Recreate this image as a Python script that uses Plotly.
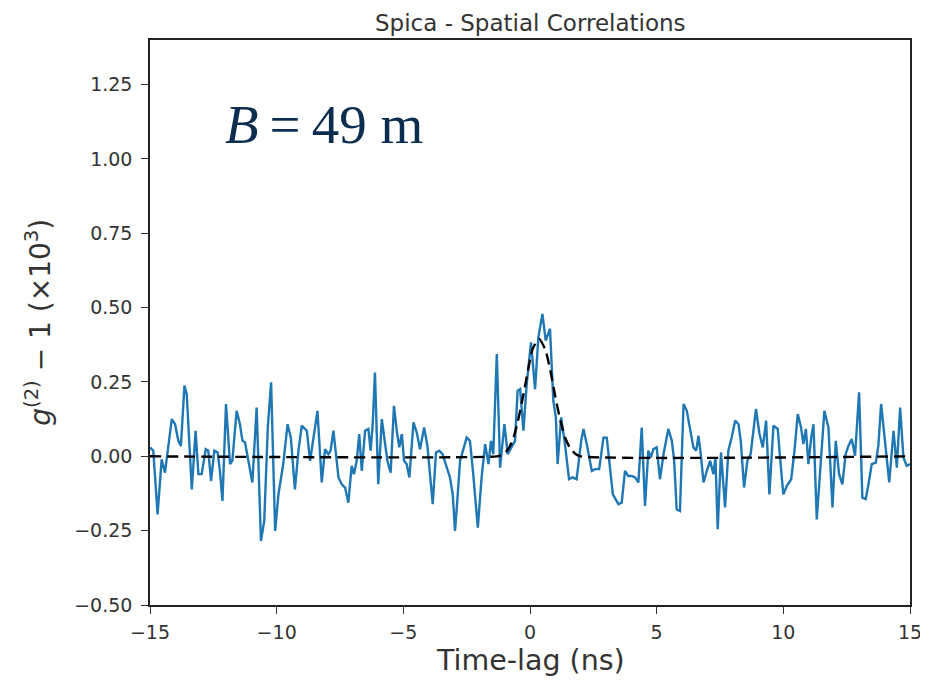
import plotly.graph_objects as go

lag_ns = [
    -15.0, -14.87, -14.70, -14.54, -14.41, -14.28, -14.14, -14.01, -13.88, -13.78, -13.64, -13.55, -13.46, -13.35,
    -13.20, -13.09, -12.96, -12.80, -12.70, -12.59, -12.46, -12.33, -12.24, -12.14, -12.00, -11.84, -11.75, -11.58,
    -11.45, -11.35, -11.25, -11.12, -10.96, -10.79, -10.62, -10.49, -10.35, -10.22, -10.06, -9.93, -9.74, -9.57,
    -9.44, -9.28, -9.14, -9.01, -8.88,
    -8.81, -8.68, -8.55, -8.39, -8.22, -8.09, -7.96, -7.87, -7.76, -7.66, -7.56, -7.43, -7.30, -7.17, -7.04, -6.95,
    -6.84, -6.74, -6.64, -6.51, -6.38, -6.29, -6.21, -6.12, -5.99, -5.85, -5.72, -5.63, -5.50, -5.37, -5.26, -5.16,
    -5.06, -4.97, -4.87, -4.76, -4.60, -4.47, -4.34, -4.18, -4.05, -3.95, -3.84, -3.71, -3.58, -3.45, -3.31, -3.16,
    -3.05, -2.96, -2.87, -2.76,
    -2.50, -2.37, -2.24, -2.06, -1.91, -1.77, -1.64, -1.54, -1.45, -1.31, -1.18, -1.01, -0.88, -0.72, -0.59, -0.49,
    -0.39, -0.26, -0.13, 0.04, 0.20, 0.33, 0.49, 0.62, 0.79, 0.92, 1.02, 1.09, 1.23, 1.38, 1.54, 1.67, 1.84, 2.02,
    2.11, 2.24, 2.44, 2.57, 2.73, 2.90, 3.03,
    3.27, 3.49, 3.62, 3.75, 3.88, 4.02, 4.15, 4.28, 4.41, 4.54, 4.67, 4.77, 4.87, 5.00, 5.13, 5.27, 5.46, 5.60, 5.69,
    5.79, 5.92, 6.06, 6.19, 6.32, 6.45, 6.56, 6.65, 6.74, 6.85, 6.98, 7.11, 7.24, 7.32, 7.41, 7.54, 7.70, 7.83, 7.96,
    8.10, 8.23, 8.32, 8.45, 8.58, 8.71, 8.82, 8.92, 9.06, 9.19, 9.32, 9.45,
    9.61, 9.78, 9.87, 10.00, 10.14, 10.31, 10.44, 10.57, 10.70, 10.79, 10.89, 10.99, 11.10, 11.19, 11.32, 11.45,
    11.62, 11.78, 11.94, 12.07, 12.20, 12.33, 12.46, 12.57, 12.70, 12.83, 12.99, 13.12, 13.25, 13.36, 13.49, 13.65,
    13.75, 13.86, 13.99, 14.18, 14.35, 14.48, 14.61, 14.74, 14.87, 15.0,
]
g2_minus_1 = [
    0.030, 0.019, -0.195, -0.010, -0.055, 0.041, 0.125, 0.108, 0.052, 0.035, 0.238, 0.209, 0.063, -0.111,
    0.086, -0.060, -0.060, 0.024, 0.019, -0.083, 0.019, 0.013, -0.049, -0.150, 0.176, -0.026, -0.015, 0.153,
    0.108, 0.052, 0.047, -0.015, -0.088, 0.164, -0.285, -0.217, 0.097, 0.249, -0.251, -0.128, -0.026, 0.108,
    0.063, -0.111, 0.019, 0.103, 0.092,
    0.086, -0.015, 0.063, 0.153, -0.088, 0.024, 0.007, 0.019, 0.086, -0.004, -0.071, -0.094, -0.105, -0.156, -0.032, -0.060,
    -0.015, 0.075, -0.049, 0.086, 0.092, 0.019, 0.108, 0.282, -0.094, 0.125, 0.052, -0.015, -0.055, 0.170, 0.086, 0.030,
    0.075, -0.015, -0.026, -0.071, 0.114, 0.080, 0.024, 0.097, 0.035, -0.049, -0.161, 0.013, 0.019, 0.007, -0.032, -0.071,
    -0.128, -0.251, -0.150, -0.015,
    0.063, 0.052, -0.060, -0.240, -0.071, 0.041, -0.026, 0.052, 0.007, 0.344, -0.038, 0.108, 0.007, 0.030, 0.052, 0.221,
    0.226, 0.086, 0.243, 0.383, 0.226, 0.400, 0.479, 0.389, 0.429, 0.187, 0.131, -0.026, 0.131, 0.041, -0.077, -0.071, -0.077, 0.052,
    0.092, 0.041, -0.049, -0.043, -0.043, 0.063, 0.063,
    -0.128, -0.161, -0.156, -0.049, -0.066, -0.066, -0.071, -0.088, 0.097, -0.167, 0.019, -0.004, 0.024, 0.030, -0.077, 0.007, 0.092, 0.052, -0.015,
    -0.178, -0.184, 0.176, 0.153, 0.086, 0.030, 0.019, 0.069, 0.007, -0.088, -0.049, -0.015, -0.060, -0.004, -0.245, 0.013, -0.172, 0.019, 0.063,
    0.120, 0.108, 0.052, -0.105, -0.015, 0.007, 0.097, 0.159, 0.075, 0.030, 0.120, -0.128,
    0.103, 0.092, -0.004, -0.128, -0.099, -0.077, 0.019, 0.142, 0.097, 0.041, 0.092, -0.026, 0.063, 0.108, -0.212, -0.049,
    0.153, 0.097, -0.172, 0.052, -0.060, -0.094, 0.007, 0.035, 0.058, 0.002, 0.215, -0.139, -0.144, -0.094, -0.026, -0.021,
    0.035, 0.176, 0.075, -0.088, 0.086, -0.038, 0.164, -0.004, -0.032, -0.026,
]

# Fitted model (dashed)
fit_lag_ns = [-15, -1.3, -1.1, -0.9, -0.7, -0.5, -0.3, -0.1, 0.1, 0.35, 0.6, 0.8, 1.0, 1.2, 1.4, 1.6, 1.8, 2.0, 15]
fit_values = [0, 0, 0.005, 0.02, 0.05, 0.11, 0.19, 0.28, 0.36, 0.395, 0.36, 0.29, 0.20, 0.12, 0.06, 0.025, 0.008, 0, 0]

x_ticks = [-15, -10, -5, 0, 5, 10, 15]
y_ticks = [-0.5, -0.25, 0.0, 0.25, 0.5, 0.75, 1.0, 1.25]

title_text = "Spica - Spatial Correlations"
x_label = "Time-lag (ns)"
y_label = "<i>g</i><sup>(2)</sup> − 1 (×10<sup>3</sup>)"
baseline_text = "<i>B</i>\u2009=\u200949 m"

TXT = "#333"

fig = go.Figure()
fig.add_trace(go.Scatter(x=lag_ns, y=g2_minus_1, mode="lines",
                         line=dict(color="#1f77b4", width=2.4), showlegend=False))
fig.add_trace(go.Scatter(x=fit_lag_ns, y=fit_values, mode="lines",
                         line=dict(color="black", width=2.4, dash="11px,6px", shape="spline", smoothing=0.6),
                         showlegend=False))

axis_common = dict(showgrid=False, zeroline=False, showline=True, mirror=True, automargin=False,
                   linecolor="#222", linewidth=1.5, ticks="outside", ticklen=7,
                   tickcolor="#333", tickwidth=1.2,
                   tickfont=dict(family="DejaVu Sans", size=19, color=TXT))

fig.update_xaxes(range=[-15, 15], tickvals=x_ticks,
                 ticktext=[("−" if v < 0 else "") + str(abs(v)) for v in x_ticks],
                 ticklabelstandoff=2, **axis_common)
fig.update_yaxes(range=[-0.5, 1.4], tickvals=y_ticks, tickformat=".2f",
                 ticklabelstandoff=5, **axis_common)

# axis titles placed as annotations for exact positioning
fig.add_annotation(text=x_label, xref="paper", yref="paper", x=0.5, y=-0.098,
                   xanchor="center", yanchor="middle", showarrow=False,
                   font=dict(family="DejaVu Sans", size=28.5, color=TXT))
fig.add_annotation(text=y_label, xref="paper", yref="paper", x=-0.147, y=0.5,
                   xanchor="center", yanchor="middle", showarrow=False, textangle=-90,
                   font=dict(family="DejaVu Sans", size=28, color=TXT))

fig.add_annotation(text=baseline_text, xref="paper", yref="paper", x=0.2283, y=0.85,
                   xanchor="center", yanchor="middle", showarrow=False,
                   font=dict(family="Liberation Serif", size=55, color="#0b2d50"))

# title: top of its box at the top of the figure
fig.add_annotation(text=title_text, xref="paper", yref="paper", x=0.5, y=1.0 + 32 / 565,
                   xanchor="center", yanchor="top", showarrow=False,
                   font=dict(family="DejaVu Sans", size=23, color=TXT))

# The page body adds an 8 px offset, so the figure is 8 px smaller than the window
fig.update_layout(
    width=920, height=672,
    margin=dict(l=142, r=18, t=32, b=75),
    plot_bgcolor="white", paper_bgcolor="white",
)

fig.write_html("out.html")
